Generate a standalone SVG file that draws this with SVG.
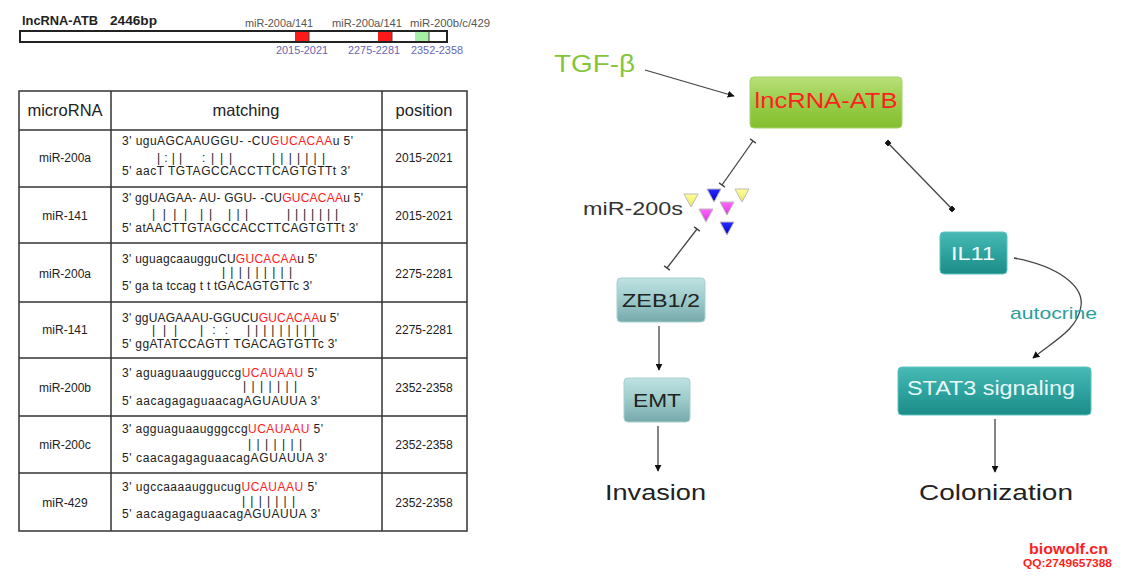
<svg xmlns="http://www.w3.org/2000/svg" width="1129" height="578" viewBox="0 0 1129 578">
<style>
text{font-family:"Liberation Sans",Arial,sans-serif;}
.t12{font-size:12px;fill:#222;}
.hd{font-size:16.5px;fill:#222;text-anchor:middle;}
.c{text-anchor:middle;}
.red{fill:#ff2020;}
.bar{font-size:12px;fill:#222;}
.grid{stroke:#333;stroke-width:1.5;fill:none;}
.conn{stroke:#444;stroke-width:1.3;fill:none;}
.ttl{font-size:12.5px;font-weight:bold;fill:#222;}
.mirl{font-size:10.8px;fill:#555;}
.posl{font-size:11px;fill:#6666b3;}
</style>
<defs>
<linearGradient id="gGreen" x1="0" y1="0" x2="0" y2="1"><stop offset="0" stop-color="#b9e07a"/><stop offset="0.5" stop-color="#98cd4a"/><stop offset="1" stop-color="#84be2e"/></linearGradient>
<linearGradient id="gTeal" x1="0" y1="0" x2="0" y2="1"><stop offset="0" stop-color="#49bab5"/><stop offset="0.5" stop-color="#2ea39f"/><stop offset="1" stop-color="#1d8c88"/></linearGradient>
<linearGradient id="gGray" x1="0" y1="0" x2="0" y2="1"><stop offset="0" stop-color="#bfe2e2"/><stop offset="0.5" stop-color="#9ccaca"/><stop offset="1" stop-color="#77a9ab"/></linearGradient>
<linearGradient id="gYel" x1="0" y1="0" x2="0" y2="1"><stop offset="0" stop-color="#ffff9a"/><stop offset="1" stop-color="#e8e860"/></linearGradient>
<linearGradient id="gBlue" x1="0" y1="0" x2="0" y2="1"><stop offset="0" stop-color="#2a2aff"/><stop offset="1" stop-color="#0000cc"/></linearGradient>
<linearGradient id="gMag" x1="0" y1="0" x2="0" y2="1"><stop offset="0" stop-color="#ff66ff"/><stop offset="1" stop-color="#dd33dd"/></linearGradient>
<marker id="arr" viewBox="0 0 10 10" refX="9" refY="5" markerWidth="7" markerHeight="7" markerUnits="userSpaceOnUse" orient="auto"><path d="M0,0 L10,5 L0,10 Z" fill="#111"/></marker>
<marker id="tee" viewBox="-5 -5 10 10" refX="0" refY="0" markerWidth="9" markerHeight="9" markerUnits="userSpaceOnUse" orient="auto"><path d="M0,-4 L0,4" stroke="#444" stroke-width="1.6"/></marker>
<marker id="sq" viewBox="-5 -5 10 10" refX="0" refY="0" markerWidth="5" markerHeight="5" markerUnits="userSpaceOnUse" orient="auto"><rect x="-5" y="-5" width="10" height="10" fill="#111"/></marker>
<path id="tri" d="M-7,-6 L7,-6 L0,7 Z" stroke="#bbb" stroke-width="1"/>
</defs>
<rect width="1129" height="578" fill="#ffffff"/>

<g id="lncrna-map">
<text x="22" y="25" class="ttl" textLength="76" lengthAdjust="spacingAndGlyphs">lncRNA-ATB</text>
<text x="110" y="25" class="ttl" textLength="47" lengthAdjust="spacingAndGlyphs">2446bp</text>
<text x="245" y="27" class="mirl" textLength="68" lengthAdjust="spacingAndGlyphs">miR-200a/141</text>
<text x="332" y="27" class="mirl" textLength="70" lengthAdjust="spacingAndGlyphs">miR-200a/141</text>
<text x="410" y="27" class="mirl" textLength="80" lengthAdjust="spacingAndGlyphs">miR-200b/c/429</text>
<rect x="20" y="31" width="427" height="11" fill="#fff" stroke="#222" stroke-width="2"/>
<rect x="295" y="32" width="14" height="9" fill="#ff1a1a"/>
<rect x="378" y="32" width="14" height="9" fill="#ff1a1a"/>
<rect x="415" y="32" width="14" height="9" fill="#a6f0a6"/>
<line x1="309" y1="32" x2="309" y2="41" stroke="#444" stroke-width="1"/>
<line x1="392" y1="32" x2="392" y2="41" stroke="#444" stroke-width="1"/>
<line x1="429" y1="32" x2="429" y2="41" stroke="#444" stroke-width="1"/>
<text x="276" y="54" class="posl" textLength="52" lengthAdjust="spacingAndGlyphs">2015-2021</text>
<text x="348" y="54" class="posl" textLength="52" lengthAdjust="spacingAndGlyphs">2275-2281</text>
<text x="411" y="54" class="posl" textLength="52" lengthAdjust="spacingAndGlyphs">2352-2358</text>
</g>

<g id="table">
<rect x="19" y="91" width="448" height="440" class="grid" stroke-width="2"/>
<line x1="111" y1="91" x2="111" y2="531" class="grid"/>
<line x1="382" y1="91" x2="382" y2="531" class="grid"/>
<line x1="19" y1="130" x2="467" y2="130" class="grid"/>
<line x1="19" y1="187" x2="467" y2="187" class="grid"/>
<line x1="19" y1="243" x2="467" y2="243" class="grid"/>
<line x1="19" y1="302" x2="467" y2="302" class="grid"/>
<line x1="19" y1="358" x2="467" y2="358" class="grid"/>
<line x1="19" y1="416" x2="467" y2="416" class="grid"/>
<line x1="19" y1="473" x2="467" y2="473" class="grid"/>
<text x="65" y="116" class="hd">microRNA</text>
<text x="246" y="116" class="hd">matching</text>
<text x="424" y="116" class="hd">position</text>

<text x="65" y="162" class="t12 c">miR-200a</text>
<text x="424" y="162" class="t12 c">2015-2021</text>
<text x="122" y="145" class="t12" textLength="231">3' uguAGCAAUGGU- -CU<tspan class="red">GUCACAA</tspan>u 5'</text>
<text x="157" y="162" class="bar" textLength="25">| : | |</text>
<text x="202" y="162" class="bar" textLength="30">: | | |</text>
<text x="272" y="162" class="bar" textLength="53">| | | | | | |</text>
<text x="122" y="175" class="t12" textLength="228">5' aacT TGTAGCCACCTTCAGTGTTt 3'</text>

<text x="65" y="220" class="t12 c">miR-141</text>
<text x="424" y="220" class="t12 c">2015-2021</text>
<text x="122" y="202" class="t12" textLength="241">3' ggUAGAA- AU- GGU- -CU<tspan class="red">GUCACAA</tspan>u 5'</text>
<text x="152" y="218" class="bar" textLength="35">|  | | |</text>
<text x="200" y="218" class="bar" textLength="12">| |</text>
<text x="228" y="218" class="bar" textLength="20">| | |</text>
<text x="287" y="218" class="bar" textLength="51">| | | | | | |</text>
<text x="122" y="232" class="t12" textLength="236">5'  atAACTTGTAGCCACCTTCAGTGTTt 3'</text>

<text x="65" y="278" class="t12 c">miR-200a</text>
<text x="424" y="278" class="t12 c">2275-2281</text>
<text x="122" y="263" class="t12" textLength="195">3' uguagcaaugguCU<tspan class="red">GUCACAA</tspan>u 5'</text>
<text x="222" y="276" class="bar" textLength="70">| | | | | | | | |</text>
<text x="122" y="290" class="t12" textLength="190">5' ga ta tccag t t tGACAGTGTTc 3'</text>

<text x="65" y="334" class="t12 c">miR-141</text>
<text x="424" y="334" class="t12 c">2275-2281</text>
<text x="122" y="322" class="t12" textLength="217">3' ggUAGAAAU-GGUCU<tspan class="red">GUCACAA</tspan>u 5'</text>
<text x="152" y="334" class="bar" textLength="25">| |  |</text>
<text x="200" y="334" class="bar" textLength="28">|  : :</text>
<text x="247" y="334" class="bar" textLength="68">| | | | | | | | |</text>
<text x="122" y="348" class="t12" textLength="215">5' ggATATCCAGTT TGACAGTGTTc 3'</text>

<text x="65" y="392" class="t12 c">miR-200b</text>
<text x="424" y="392" class="t12 c">2352-2358</text>
<text x="122" y="377" class="t12" textLength="195">3' aguaguaaugguccg<tspan class="red">UCAUAAU</tspan> 5'</text>
<text x="243" y="390" class="bar" textLength="54">| | | | | | |</text>
<text x="122" y="405" class="t12" textLength="198">5' aacagagaguaacagAGUAUUA 3'</text>

<text x="65" y="449" class="t12 c">miR-200c</text>
<text x="424" y="449" class="t12 c">2352-2358</text>
<text x="122" y="433" class="t12" textLength="201">3' agguaguaaugggccg<tspan class="red">UCAUAAU</tspan> 5'</text>
<text x="248" y="448" class="bar" textLength="54">| | | | | | |</text>
<text x="122" y="462" class="t12" textLength="205">5' caacagagaguaacagAGUAUUA 3'</text>

<text x="65" y="507" class="t12 c">miR-429</text>
<text x="424" y="507" class="t12 c">2352-2358</text>
<text x="122" y="491" class="t12" textLength="195">3' ugccaaaauggucug<tspan class="red">UCAUAAU</tspan> 5'</text>
<text x="242" y="505" class="bar" textLength="53">| | | | | | |</text>
<text x="122" y="518" class="t12" textLength="198">5' aacagagaguaacagAGUAUUA 3'</text>
</g>

<g id="connectors">
<line x1="645" y1="70" x2="734" y2="96" class="conn" marker-end="url(#arr)"/>
<line x1="753" y1="141" x2="722" y2="185" class="conn" marker-start="url(#tee)" marker-end="url(#tee)"/>
<line x1="697" y1="229" x2="667" y2="268" class="conn" marker-start="url(#tee)" marker-end="url(#tee)"/>
<line x1="888" y1="143" x2="952" y2="209" class="conn" marker-start="url(#sq)" marker-end="url(#sq)"/>
<line x1="659" y1="326" x2="659" y2="370" class="conn" marker-end="url(#arr)"/>
<line x1="658" y1="426" x2="658" y2="471" class="conn" marker-end="url(#arr)"/>
<path d="M1014,258 C1058,266 1084,286 1081,306 C1078,330 1052,342 1033,358" class="conn" marker-end="url(#arr)"/>
<line x1="995" y1="419" x2="995" y2="472" class="conn" marker-end="url(#arr)"/>
</g>

<g id="tgf-beta">
<text x="554" y="72" font-size="24" fill="#86c53a" textLength="81" lengthAdjust="spacingAndGlyphs">TGF-β</text>
</g>

<g id="lncrna-atb">
<rect x="750" y="77" width="152" height="51" rx="4" fill="url(#gGreen)" stroke="#a5d36a" stroke-width="1"/>
<text x="826" y="108" font-size="22" fill="#ff1f1f" text-anchor="middle" textLength="143" lengthAdjust="spacingAndGlyphs">lncRNA-ATB</text>
</g>

<g id="mir-200s">
<text x="583" y="215" font-size="19" fill="#333" textLength="100" lengthAdjust="spacingAndGlyphs">miR-200s</text>
<use href="#tri" x="691" y="200" fill="url(#gYel)"/>
<use href="#tri" x="714" y="195" fill="url(#gBlue)"/>
<use href="#tri" x="742" y="195" fill="url(#gYel)"/>
<use href="#tri" x="706" y="215" fill="url(#gMag)"/>
<use href="#tri" x="727" y="208" fill="url(#gMag)"/>
<use href="#tri" x="727" y="228" fill="url(#gBlue)"/>
</g>

<g id="zeb12">
<rect x="617" y="278" width="88" height="44" rx="4" fill="url(#gGray)" stroke="#a7cfcf" stroke-width="1"/>
<text x="661" y="307" font-size="18" fill="#222" text-anchor="middle" textLength="78" lengthAdjust="spacingAndGlyphs">ZEB1/2</text>
</g>

<g id="emt">
<rect x="624" y="378" width="66" height="44" rx="4" fill="url(#gGray)" stroke="#a7cfcf" stroke-width="1"/>
<text x="657" y="407" font-size="18" fill="#222" text-anchor="middle" textLength="48" lengthAdjust="spacingAndGlyphs">EMT</text>
</g>

<g id="invasion">
<text x="605" y="500" font-size="22" fill="#222" textLength="101" lengthAdjust="spacingAndGlyphs">Invasion</text>
</g>

<g id="il11">
<rect x="940" y="232" width="67" height="42" rx="4" fill="url(#gTeal)" stroke="#5cc2be" stroke-width="1"/>
<text x="973" y="260" font-size="19" fill="#f2fbfb" text-anchor="middle" textLength="44" lengthAdjust="spacingAndGlyphs">IL11</text>
</g>

<g id="autocrine-label">
<text x="1010" y="319" font-size="17" fill="#2a9e9a" textLength="87" lengthAdjust="spacingAndGlyphs">autocrine</text>
</g>

<g id="stat3">
<rect x="898" y="367" width="193" height="48" rx="4" fill="url(#gTeal)" stroke="#5cc2be" stroke-width="1"/>
<text x="907" y="395" font-size="21" fill="#e8f8f8" textLength="168" lengthAdjust="spacingAndGlyphs">STAT3 signaling</text>
</g>

<g id="colonization">
<text x="919" y="500" font-size="22" fill="#222" textLength="154" lengthAdjust="spacingAndGlyphs">Colonization</text>
</g>

<g id="watermark">
<text x="1029" y="554" font-size="14" font-weight="bold" fill="#ff1f1f" font-family="Liberation Mono, monospace" textLength="79" lengthAdjust="spacingAndGlyphs">biowolf.cn</text>
<text x="1023" y="567" font-size="10" font-weight="bold" fill="#ff1f1f" font-family="Liberation Mono, monospace" textLength="89" lengthAdjust="spacingAndGlyphs">QQ:2749657388</text>
</g>
</svg>
